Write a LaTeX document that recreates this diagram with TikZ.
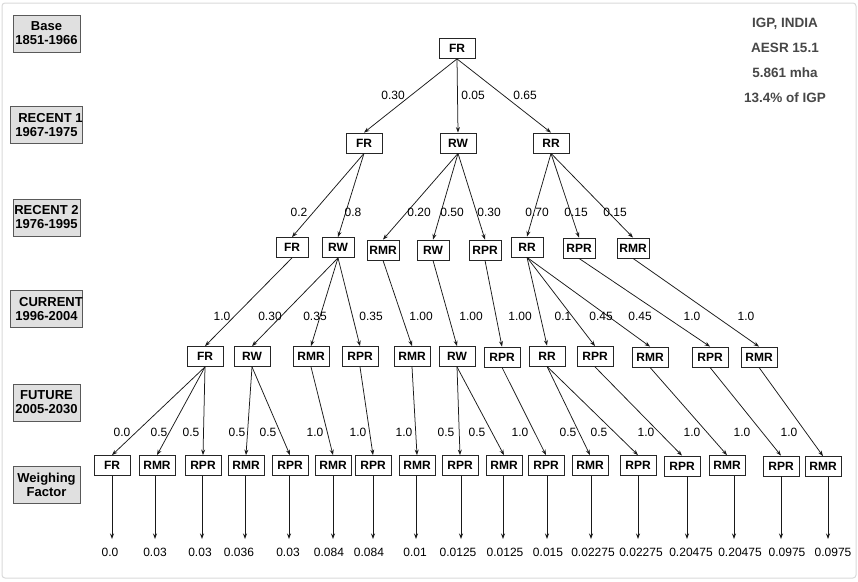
\documentclass[tikz,border=0pt]{standalone}
\usepackage{fontspec}
\setmainfont{Liberation Sans}
\usetikzlibrary{arrows.meta}
\begin{document}
\begin{tikzpicture}[x=1pt,y=-1pt,
 tb/.style={draw=black!85, line width=0.8pt, minimum width=36pt, minimum height=20pt, inner sep=0pt, font=\fontsize{12}{14}\selectfont\bfseries},
 nb/.style={tb, minimum width=32pt},
 lb/.style={draw=black!65, fill=black!12, line width=0.8pt, minimum width=67pt, minimum height=37pt, align=center, inner sep=0pt, font=\fontsize{13}{14}\selectfont\bfseries},
 pl/.style={font=\fontsize{12}{14}\selectfont, inner sep=0pt},
 wv/.style={font=\fontsize{12}{14}\selectfont, inner sep=0pt},
 ar/.style={-{Stealth[length=5.5pt,width=4pt]}, line width=0.75pt, draw=black!90},
 info/.style={font=\fontsize{13.5}{15}\selectfont\bfseries, text=black!72},
]
\useasboundingbox (0,0) rectangle (858,581);
\draw[black!15, line width=1pt, rounded corners=3pt] (2,3) rectangle (856,578);

% left period labels
\node[lb] (pBase) at (46.5,33.5) {Base\\1851-1966};
\node[lb] (pR1) at (46.5,125) {\hspace*{8pt}RECENT 1\\1967-1975};
\node[lb] (pR2) at (46.5,217.5) {RECENT 2\\1976-1995};
\node[lb] (pCur) at (46.5,309) {\hspace*{9pt}CURRENT\\1996-2004};
\node[lb] (pFut) at (46.5,402.5) {FUTURE\\2005-2030};
\node[lb] (pW) at (46.5,485) {Weighing\\Factor};

% info text
\node[info] (i1) at (785,24) {IGP, INDIA};
\node[info] (i2) at (785,48) {AESR 15.1};
\node[info] (i3) at (785,73) {5.861 mha};
\node[info] (i4) at (785,98) {13.4\% of IGP};

% level 0
\node[tb] (a) at (457,48.5) {FR};
% level 1
\node[tb] (b1) at (364,143) {FR};
\node[tb] (b2) at (458,143) {RW};
\node[tb] (b3) at (551,143) {RR};
% level 2
\node[nb] (c1) at (292,247.5) {FR};
\node[nb] (c2) at (338,247.5) {RW};
\node[nb] (c3) at (383,250) {RMR};
\node[nb] (c4) at (433,250) {RW};
\node[nb] (c5) at (485,250) {RPR};
\node[nb] (c6) at (527,247) {RR};
\node[nb] (c7) at (579,248) {RPR};
\node[nb] (c8) at (633,248) {RMR};
% level 3
\node[tb] (d1) at (205,356.5) {FR};
\node[tb] (d2) at (252,356.5) {RW};
\node[tb] (d3) at (311,356.5) {RMR};
\node[tb] (d4) at (360,356.5) {RPR};
\node[tb] (d5) at (412,356.5) {RMR};
\node[tb] (d6) at (457,356.5) {RW};
\node[tb] (d7) at (502,357) {RPR};
\node[tb] (d8) at (547,356) {RR};
\node[tb] (d9) at (595,356.5) {RPR};
\node[tb] (d10) at (650,357) {RMR};
\node[tb] (d11) at (710,357) {RPR};
\node[tb] (d12) at (759,357) {RMR};
% level 4
\node[tb] (e1) at (112,465.5) {FR};
\node[tb] (e2) at (157,465.5) {RMR};
\node[tb] (e3) at (203,465.5) {RPR};
\node[tb] (e4) at (246,465.5) {RMR};
\node[tb] (e5) at (290,465.5) {RPR};
\node[tb] (e6) at (333,465.5) {RMR};
\node[tb] (e7) at (373,465.5) {RPR};
\node[tb] (e8) at (417,465.5) {RMR};
\node[tb] (e9) at (460,465.5) {RPR};
\node[tb] (e10) at (504,465.5) {RMR};
\node[tb] (e11) at (546,465.5) {RPR};
\node[tb] (e12) at (590,465.5) {RMR};
\node[tb] (e13) at (638,465.5) {RPR};
\node[tb] (e14) at (682,466) {RPR};
\node[tb] (e15) at (727,465.5) {RMR};
\node[tb] (e16) at (781,466) {RPR};
\node[tb] (e17) at (823,466.5) {RMR};

% edges level 0 -> 1
\draw[ar] (a.south) -- (b1.north);
\draw[ar] (a.south) -- (b2.north);
\draw[ar] (a.south) -- (b3.north);
% level 1 -> 2
\draw[ar] (b1.south) -- (c1.north);
\draw[ar] (b1.south) -- (c2.north);
\draw[ar] (b2.south) -- (c3.north);
\draw[ar] (b2.south) -- (c4.north);
\draw[ar] (b2.south) -- (c5.north);
\draw[ar] (b3.south) -- (c6.north);
\draw[ar] (b3.south) -- (c7.north);
\draw[ar] (b3.south) -- (c8.north);
% level 2 -> 3
\draw[ar] (c1.south) -- (d1.north);
\draw[ar] (c2.south) -- (d2.north);
\draw[ar] (c2.south) -- (d3.north);
\draw[ar] (c2.south) -- (d4.north);
\draw[ar] (c3.south) -- (d5.north);
\draw[ar] (c4.south) -- (d6.north);
\draw[ar] (c5.south) -- (d7.north);
\draw[ar] (c6.south) -- (d8.north);
\draw[ar] (c6.south) -- (d9.north);
\draw[ar] (c6.south) -- (d10.north);
\draw[ar] (c7.south) -- (d11.north);
\draw[ar] (c8.south) -- (d12.north);
% level 3 -> 4
\draw[ar] (d1.south) -- (e1.north);
\draw[ar] (d1.south) -- (e2.north);
\draw[ar] (d1.south) -- (e3.north);
\draw[ar] (d2.south) -- (e4.north);
\draw[ar] (d2.south) -- (e5.north);
\draw[ar] (d3.south) -- (e6.north);
\draw[ar] (d4.south) -- (e7.north);
\draw[ar] (d5.south) -- (e8.north);
\draw[ar] (d6.south) -- (e9.north);
\draw[ar] (d6.south) -- (e10.north);
\draw[ar] (d7.south) -- (e11.north);
\draw[ar] (d8.south) -- (e12.north);
\draw[ar] (d8.south) -- (e13.north);
\draw[ar] (d9.south) -- (e14.north);
\draw[ar] (d10.south) -- (e15.north);
\draw[ar] (d11.south) -- (e16.north);
\draw[ar] (d12.south) -- (e17.north);

% probability labels
\node[pl] (l01) at (393,95) {0.30};
\node[pl] (l02) at (473,95) {0.05};
\node[pl] (l03) at (525,95) {0.65};

\node[pl] (l11) at (299,212) {0.2};
\node[pl] (l12) at (353,212) {0.8};
\node[pl] (l13) at (419,212) {0.20};
\node[pl] (l14) at (452,212) {0.50};
\node[pl] (l15) at (489,212) {0.30};
\node[pl] (l16) at (537,212) {0.70};
\node[pl] (l17) at (576,212) {0.15};
\node[pl] (l18) at (615,212) {0.15};

\node[pl] (l21) at (222,316) {1.0};
\node[pl] (l22) at (270,316) {0.30};
\node[pl] (l23) at (315,316) {0.35};
\node[pl] (l24) at (371,316) {0.35};
\node[pl] (l25) at (421,316) {1.00};
\node[pl] (l26) at (471,316) {1.00};
\node[pl] (l27) at (520,316) {1.00};
\node[pl] (l28) at (563,316) {0.1};
\node[pl] (l29) at (601,316) {0.45};
\node[pl] (l210) at (640,316) {0.45};
\node[pl] (l211) at (692,316) {1.0};
\node[pl] (l212) at (746,316) {1.0};

\node[pl] (l31) at (122,432) {0.0};
\node[pl] (l32) at (159,432) {0.5};
\node[pl] (l33) at (191,432) {0.5};
\node[pl] (l34) at (237,432) {0.5};
\node[pl] (l35) at (268,432) {0.5};
\node[pl] (l36) at (315,432) {1.0};
\node[pl] (l37) at (358,432) {1.0};
\node[pl] (l38) at (404,432) {1.0};
\node[pl] (l39) at (446,432) {0.5};
\node[pl] (l310) at (477,432) {0.5};
\node[pl] (l311) at (520,432) {1.0};
\node[pl] (l312) at (568,432) {0.5};
\node[pl] (l313) at (599,432) {0.5};
\node[pl] (l314) at (646,432) {1.0};
\node[pl] (l315) at (692,432) {1.0};
\node[pl] (l316) at (742,432) {1.0};
\node[pl] (l317) at (789,432) {1.0};

% weighing factors: n / arrow x / value x / value
\foreach \n/\ax/\vx/\v in {1/112/110/0.0, 2/155/155/0.03, 3/202/200/0.03, 4/245/239/0.036, 5/289/288/0.03, 6/333/329/0.084, 7/373/369/0.084, 8/416/415/0.01, 9/461/458/0.0125, 10/503/505/0.0125, 11/547/548/0.015, 12/591/593/0.02275, 13/638/641/0.02275, 14/687/691/0.20475, 15/734/740/0.20475, 16/781/787/0.0975, 17/828/833/0.0975}{
  \coordinate (t\n) at (\ax,539);
  \node[wv] (v\n) at (\vx,552) {\v};
  \draw[ar] (e\n.south -| t\n) -- (t\n);
}
\end{tikzpicture}
\end{document}
